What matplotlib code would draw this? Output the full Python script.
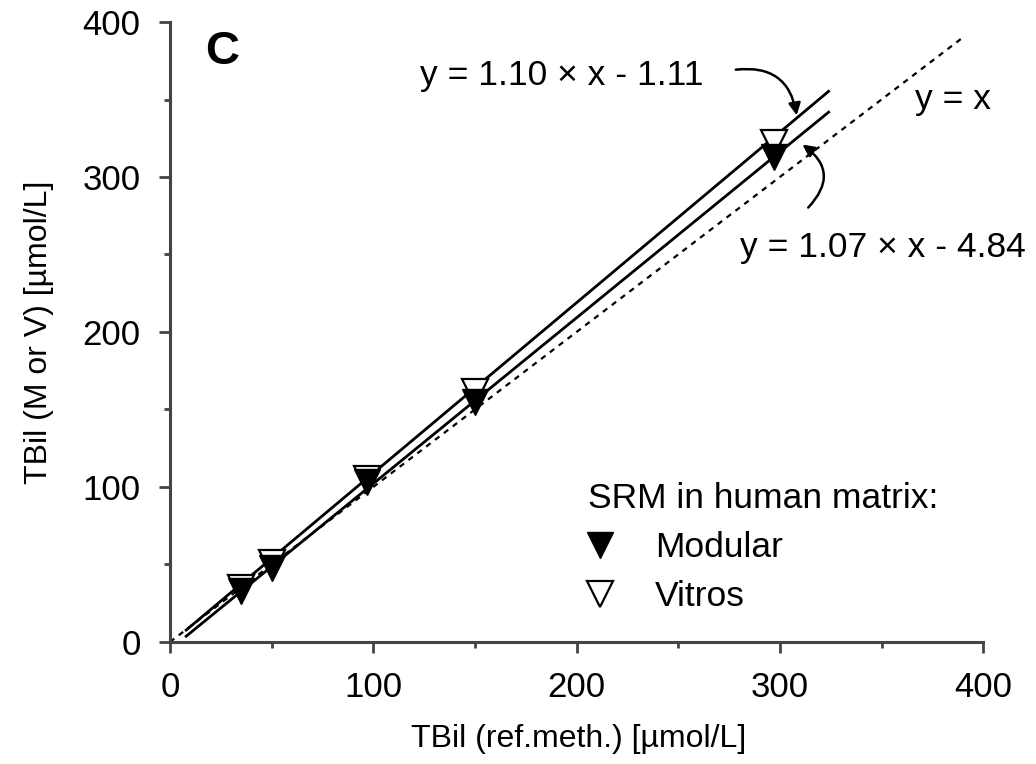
import numpy as np
import matplotlib.pyplot as plt

plt.rcParams['font.family'] = ['Liberation Sans', 'DejaVu Sans']

# reference method values and measured values
ref_x = [35, 50, 97, 150, 297]
modular_y = [33, 48, 103, 155, 313]
vitros_y = [35, 51, 105, 161, 322]

# regression fits (slope, intercept)
fit_vitros = (1.10, -1.11)
fit_modular = (1.07, -4.84)
fit_range = [8, 324]
identity_range = [0, 389]

fig = plt.figure(figsize=(10.36, 7.64), dpi=100)
ax = fig.add_axes([0.164, 0.1597, 0.785, 0.8115])

xf = np.array(fit_range, dtype=float)
ax.plot(xf, fit_vitros[0] * xf + fit_vitros[1], color='black', lw=2)
ax.plot(xf, fit_modular[0] * xf + fit_modular[1], color='black', lw=2)
xi = np.array(identity_range, dtype=float)
ax.plot(xi, xi, color='black', lw=1.6, ls=(0, (2.5, 2.5)))

ax.plot(ref_x, vitros_y, 'v', mfc='white', mec='black', mew=1.6, ms=19,
        label='Vitros', zorder=3)
ax.plot(ref_x, modular_y, 'v', color='black', ms=19, label='Modular', zorder=4)

ax.set_xlim(0, 400)
ax.set_ylim(0, 400)
ax.set_xticks([0, 100, 200, 300, 400])
ax.set_yticks([0, 100, 200, 300, 400])
ax.set_xticks([50, 150, 250, 350], minor=True)
ax.set_yticks([50, 150, 250, 350], minor=True)
ax.tick_params(which='major', length=8, width=2, labelsize=25, color='#444444', pad=13)
ax.tick_params(which='minor', length=4, width=2, color='#444444')
for s in ['top', 'right']:
    ax.spines[s].set_visible(False)
for s in ['left', 'bottom']:
    ax.spines[s].set_linewidth(2.2)
    ax.spines[s].set_color('#444444')

ax.set_xlabel('TBil (ref.meth.) [µmol/L]', fontsize=23)
ax.set_ylabel('TBil (M or V) [µmol/L]', fontsize=23)
ax.xaxis.set_label_coords(0.502, -0.132)
ax.yaxis.set_label_coords(-0.142, 0.5)

ax.text(25.6, 380.6, 'C', fontsize=34, fontweight='bold', va='center', ha='center')
ax.text(123, 365.8, 'y = 1.10 × x - 1.11', fontsize=25.5, va='center')
ax.text(280.5, 254.8, 'y = 1.07 × x - 4.84', fontsize=25.5, va='center')
ax.text(366.5, 349.7, 'y = x', fontsize=25.5, va='center')

ax.annotate('', xy=(308.5, 338), xytext=(277, 369),
            arrowprops=dict(arrowstyle='-|>', color='black', lw=1.8,
                            connectionstyle='arc3,rad=-0.5', mutation_scale=18))
ax.annotate('', xy=(310, 322), xytext=(313, 279),
            arrowprops=dict(arrowstyle='-|>', color='black', lw=1.8,
                            connectionstyle='arc3,rad=0.6', mutation_scale=18))

handles, labels = ax.get_legend_handles_labels()
leg = ax.legend(handles[::-1], labels[::-1], title='SRM in human matrix:',
                loc='upper left', bbox_to_anchor=(0.514, 0.258), frameon=False,
                fontsize=25.5, title_fontsize=25.5, alignment='left',
                handlelength=0.7, handletextpad=1.2, labelspacing=0.45,
                borderpad=0, borderaxespad=0)

fig.savefig('out.png', dpi=100)
